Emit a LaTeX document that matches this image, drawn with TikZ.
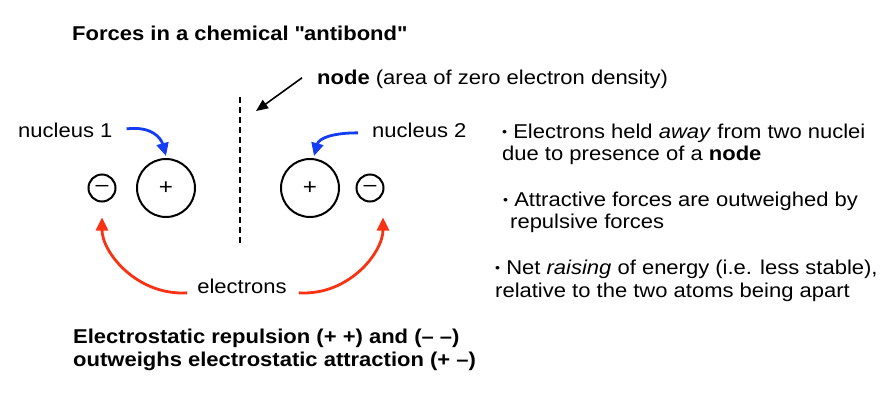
\documentclass[tikz,border=0pt]{standalone}
\usepackage{fontspec}
\setmainfont{Liberation Sans}[FakeStretch=1.1]
\usetikzlibrary{arrows.meta}
\definecolor{arrblue}{RGB}{20,60,245}
\definecolor{arrred}{RGB}{250,50,20}
\newcommand{\blt}{{\fontsize{13}{13}\selectfont\raisebox{0.12em}{•}}}
\tikzset{
  txt/.style={inner sep=0pt, anchor=base west},
  nucbig/.style={circle, draw, line width=2pt, minimum size=58pt, inner sep=0pt, font=\fontsize{22}{22}\selectfont},
  elsmall/.style={circle, draw, line width=2pt, minimum size=27pt, inner sep=0pt, font=\fontsize{21}{21}\selectfont},
  bluearr/.style={arrblue, line width=2.8pt, -{Triangle[length=13pt,width=12pt]}},
  redarr/.style={arrred, line width=2.8pt, -{Triangle[length=13pt,width=12pt]}},
}
\begin{document}
\begin{tikzpicture}[x=1pt,y=-1pt, font=\fontsize{20}{23}\selectfont]
\useasboundingbox (0,0) rectangle (894,410);
% title
\node[txt, font=\fontsize{20}{23}\selectfont\bfseries] (title) at (72,40) {Forces in a chemical \textquotedbl antibond\textquotedbl};
% node label
\node[txt] (nodelbl) at (317,84) {\textbf{node} (area of zero electron density)};
\coordinate (dtop) at (240,97);
\coordinate (dbot) at (240,245);
\draw[line width=2.5pt, dash pattern=on 6pt off 4pt] (dtop) -- (dbot);
\coordinate (nodetip) at (256,111);
\draw[line width=1.6pt, -{Triangle[length=12pt,width=10pt]}] ([xshift=-15pt,yshift=1pt]nodelbl.west) -- (nodetip);
% nuclei and electrons
\node[nucbig] (n1) at (166,188) {+};
\node[nucbig] (n2) at (310,188) {+};
\node[elsmall] (e1) at (102,188) {–};
\node[elsmall] (e2) at (370,188) {–};
% nucleus labels
\node[txt] (nuc1) at (18,137) {nucleus 1};
\node[txt] (nuc2) at (372,137) {nucleus 2};
\draw[bluearr] ([xshift=14pt,yshift=1pt]nuc1.east) .. controls +(25,-3) and +(-5,-18) .. ([yshift=2pt]n1.north);
\draw[bluearr] ([xshift=-14pt,yshift=-3pt]nuc2.west) .. controls +(-25,0) and +(5,-18) .. ([xshift=4pt,yshift=2pt]n2.north);
% electrons
\node[txt, anchor=base] (el) at (242,293) {electrons};
\draw[redarr] ([xshift=-10pt,yshift=-7pt]el.west) .. controls +(-50,3) and +(0,35) .. ([yshift=-15pt]e1.south);
\draw[redarr] ([xshift=12pt,yshift=-7pt]el.east) .. controls +(50,3) and +(0,35) .. ([xshift=13pt,yshift=-15pt]e2.south);
% bottom statement
\node[txt, font=\fontsize{20}{23}\selectfont\bfseries] (b1) at (73,343) {Electrostatic repulsion (+ +) and (– –)};
\node[txt, font=\fontsize{20}{23}\selectfont\bfseries] (b2) at (73,366) {outweighs electrostatic attraction (+ –)};
% right bullets
\node[txt] (r1a) at (502,138) {\blt\ Electrons held \textit{away} from two nuclei};
\node[txt] (r1b) at (502,160) {due to presence of a \textbf{node}};
\node[txt] (r2a) at (503,206) {\blt\ Attractive forces are outweighed by};
\node[txt] (r2b) at (510,228) {repulsive forces};
\node[txt] (r3a) at (495,274) {\blt\ Net \textit{raising} of energy (i.e. less stable),};
\node[txt] (r3b) at (495,297) {relative to the two atoms being apart};
\end{tikzpicture}
\end{document}
